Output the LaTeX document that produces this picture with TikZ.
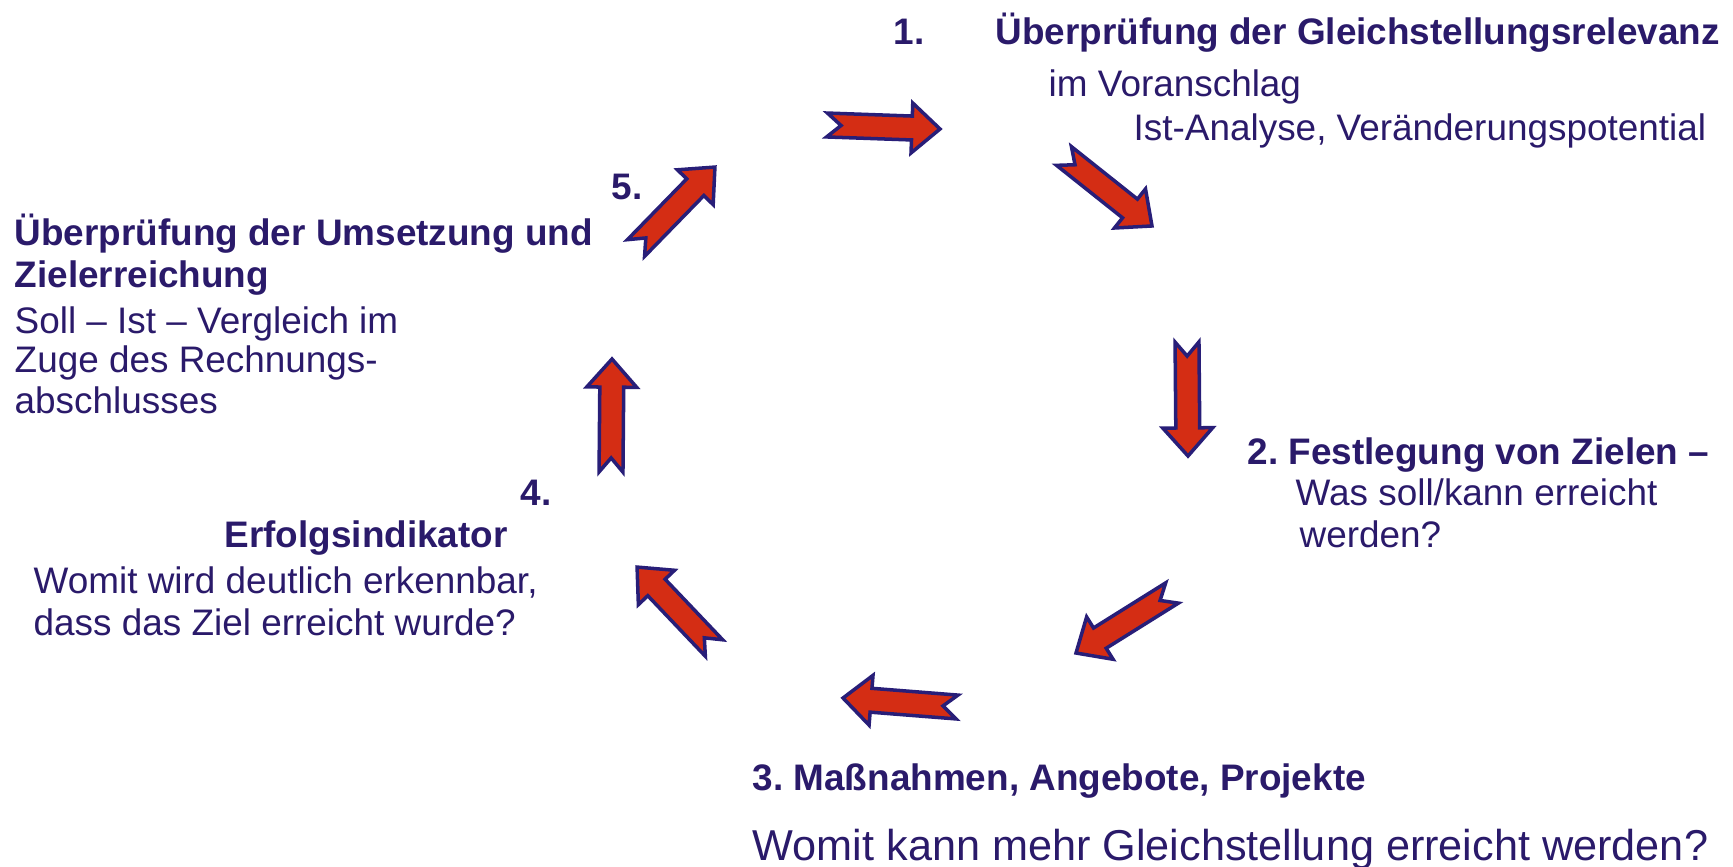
\documentclass[tikz,border=0pt]{standalone}
\usepackage{fontspec}
\setmainfont{Liberation Sans}
\definecolor{textnavy}{RGB}{42, 26, 106}
\definecolor{edgenavy}{RGB}{40, 30, 120}
\definecolor{arrowred}{RGB}{212, 45, 20}
\usetikzlibrary{calc}
\frenchspacing

% block arrow from tail coordinate to tip coordinate
\newcommand{\cyclearrow}[2]{%
  \draw[blockarrow] let \p1=($(#2)-(#1)$), \n1={atan2(\y1,\x1)}, \n2={veclen(\x1,\y1)} in
    [shift={(#1)}, rotate=\n1]
    (0pt,3.4pt) -- ({\n2*1pt-8pt},3.4pt) -- ({\n2*1pt-8pt},7.1pt) -- ({\n2*1pt},0pt)
    -- ({\n2*1pt-8pt},-7.1pt) -- ({\n2*1pt-8pt},-3.4pt) -- (0pt,-3.4pt) -- (4pt,0pt) -- cycle;
}

\begin{document}
\begin{tikzpicture}[
    headtext/.style={anchor=base west, inner sep=0pt, text=textnavy, font=\fontsize{10.5}{12}\selectfont\bfseries},
    bodytext/.style={anchor=base west, inner sep=0pt, text=textnavy, font=\fontsize{10.5}{12}\selectfont},
    blockarrow/.style={draw=edgenavy, fill=arrowred, line width=1pt, line join=miter}
  ]
  \useasboundingbox (0,0) rectangle (17.33,-8.66);

  % Step 1
  \node[headtext] (n1num) at (8.93,-0.44) {1.};
  \node[headtext] (n1head) at (9.95,-0.44) {Überprüfung der Gleichstellungsrelevanz};
  \node[bodytext] (n1a) at (10.48,-0.96) {im Voranschlag};
  \node[bodytext] (n1b) at (11.33,-1.40) {Ist-Analyse, Veränderungspotential};

  % Step 2
  \node[headtext] (n2head) at (12.47,-4.64) {2. Festlegung von Zielen --};
  \node[bodytext] (n2a) at (12.95,-5.05) {Was soll/kann erreicht};
  \node[bodytext] (n2b) at (12.99,-5.47) {werden?};

  % Step 3
  \node[headtext] (n3head) at (7.52,-7.90) {3. Maßnahmen, Angebote, Projekte};
  \node[bodytext, font=\fontsize{12.3}{14}\selectfont] (n3a) at (7.52,-8.60) {Womit kann mehr Gleichstellung erreicht werden?};

  % Step 4
  \node[headtext] (n4num) at (5.20,-5.05) {4.};
  \node[headtext] (n4head) at (2.24,-5.47) {Erfolgsindikator};
  \node[bodytext] (n4a) at (0.33,-5.93) {Womit wird deutlich erkennbar,};
  \node[bodytext] (n4b) at (0.33,-6.35) {dass das Ziel erreicht wurde?};

  % Step 5
  \node[headtext] (n5num) at (6.11,-1.99) {5.};
  \node[headtext] (n5head) at (0.14,-2.45) {Überprüfung der Umsetzung und};
  \node[headtext] (n5head2) at (0.14,-2.87) {Zielerreichung};
  \node[bodytext] (n5a) at (0.14,-3.33) {Soll -- Ist -- Vergleich im};
  \node[bodytext] (n5b) at (0.14,-3.72) {Zuge des Rechnungs-};
  \node[bodytext] (n5c) at (0.14,-4.13) {abschlusses};

  % Arrows of the cycle
  \coordinate (a1s) at (8.27,-1.25);  \coordinate (a1e) at (9.40,-1.29);
  \coordinate (a2s) at (10.64,-1.56); \coordinate (a2e) at (11.52,-2.26);
  \coordinate (a3s) at (11.87,-3.42); \coordinate (a3e) at (11.88,-4.56);
  \coordinate (a4s) at (11.72,-5.93); \coordinate (a4e) at (10.76,-6.53);
  \coordinate (a5s) at (9.57,-7.07);  \coordinate (a5e) at (8.43,-6.98);
  \coordinate (a6s) at (7.14,-6.48);  \coordinate (a6e) at (6.37,-5.67);
  \coordinate (a7s) at (6.11,-4.72);  \coordinate (a7e) at (6.12,-3.59);
  \coordinate (a8s) at (6.36,-2.48);  \coordinate (a8e) at (7.15,-1.67);

  \cyclearrow{a1s}{a1e}
  \cyclearrow{a2s}{a2e}
  \cyclearrow{a3s}{a3e}
  \cyclearrow{a4s}{a4e}
  \cyclearrow{a5s}{a5e}
  \cyclearrow{a6s}{a6e}
  \cyclearrow{a7s}{a7e}
  \cyclearrow{a8s}{a8e}
\end{tikzpicture}
\end{document}
